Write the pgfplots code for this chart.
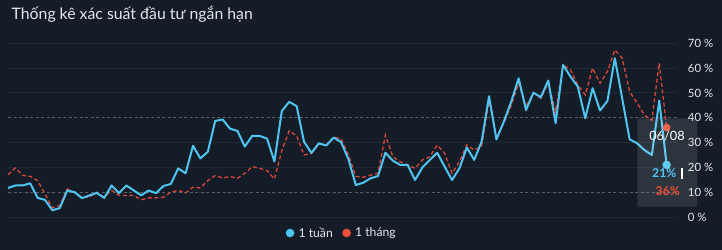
\documentclass[border=0pt]{standalone}
\usepackage{pgfplots}
\pgfplotsset{compat=1.18}
\usepackage{pgfplotstable}
\usepackage{fontspec}
\setmainfont{Lato}
\definecolor{bg}{HTML}{131C27}
\definecolor{gridc}{HTML}{1F2A36}
\definecolor{dashc}{HTML}{5A6068}
\definecolor{lblue}{HTML}{4EC5F1}
\definecolor{lred}{HTML}{D9473A}
\definecolor{mred}{HTML}{F25038}
\definecolor{txt}{HTML}{E3E7EB}

\pgfplotstableread{
i w m
0 11.7 17.0
1 12.7 19.8
2 12.7 16.8
3 13.6 16.4
4 7.7 14.7
5 6.9 9.3
6 2.7 3.7
7 3.6 4.7
8 10.7 11.3
9 10.0 10.0
10 7.6 8.0
11 8.7 8.0
12 9.7 10.0
13 7.7 8.0
14 12.7 10.7
15 9.6 8.7
16 12.7 8.7
17 10.7 8.7
18 8.7 6.9
19 10.7 7.7
20 9.6 7.7
21 12.5 8.0
22 13.3 10.0
23 19.6 10.7
24 17.6 9.7
25 28.7 12.0
26 23.6 11.7
27 26.3 14.7
28 38.7 16.7
29 39.3 15.7
30 35.6 16.3
31 34.7 15.6
32 28.4 17.6
33 32.7 20.3
34 32.7 19.6
35 31.6 18.7
36 22.4 15.3
37 42.7 26.7
38 46.4 34.7
39 44.7 32.7
40 30.3 25.0
41 25.8 25.5
42 29.7 29.4
43 28.8 29.0
44 32.0 32.2
45 30.2 31.5
46 23.3 25.0
47 12.9 16.4
48 13.8 16.0
49 15.6 16.9
50 16.5 17.6
51 25.9 33.0
52 22.7 24.3
53 21.0 22.3
54 21.0 21.0
55 14.9 19.6
56 20.0 23.0
57 23.0 24.3
58 25.9 29.0
59 20.3 25.7
60 14.9 17.6
61 19.6 22.3
62 28.0 29.0
63 23.0 27.0
64 30.4 28.6
65 48.7 46.5
66 31.3 32.4
67 38.4 37.8
68 46.5 45.0
69 55.9 53.9
70 43.1 44.5
71 50.1 50.0
72 48.3 47.8
73 55.0 54.0
74 37.8 42.5
75 61.3 61.3
76 56.6 59.3
77 52.5 53.2
78 39.8 49.2
79 51.9 60.0
80 42.9 53.9
81 46.8 58.6
82 64.0 67.3
83 47.7 64.0
84 31.3 50.5
85 29.7 46.0
86 27.0 41.0
87 25.0 39.0
88 46.9 62.0
89 21.0 36.0
}\datatable

\begin{document}
\begin{tikzpicture}
\fill[bg] (0,0) rectangle (722bp,250bp);
\node[anchor=base west, inner sep=0pt, text=txt, font=\fontsize{15.8bp}{18bp}\selectfont] at (11.5bp,230bp) {Thống kê xác suất đầu tư ngắn hạn};
\begin{axis}[
  at={(8bp,33bp)}, anchor=south west,
  scale only axis, width=669bp, height=173.7bp,
  xmin=0, xmax=90.4, ymin=0, ymax=70,
  axis line style={draw=none},
  xtick=\empty,
  ytick={0,20,30,50,60,70},
  yticklabels={0 \%,20 \%,30 \%,50 \%,60 \%,70 \%},
  extra y ticks={10,40},
  extra y tick labels={10 \%,40 \%},
  extra y tick style={grid=major, major grid style={color=dashc, dash pattern=on 3bp off 2.5bp, line width=1bp}},
  yticklabel pos=right,
  major tick length=0pt,
  ymajorgrids=true,
  major grid style={color=gridc, line width=1bp},
  yticklabel style={anchor=west, inner sep=0pt, xshift=10.7bp, text=txt, font=\fontsize{11.4bp}{13bp}\selectfont},
  clip=false,
  legend columns=2,
  legend style={at={(0.4985,-0.092)}, anchor=center, draw=none, fill=none, text=txt,
    font=\fontsize{12.2bp}{14bp}\selectfont, inner sep=0pt,
    /tikz/every even column/.append style={column sep=8bp},
    nodes={inner sep=1.5bp}},
  legend cell align=left,
]
\addplot[color=lred, line width=1.3bp, dash pattern=on 4bp off 2.6bp, forget plot] table[x=i, y=m] {\datatable};
\addplot[color=lblue, line width=2bp, line join=round, forget plot] table[x=i, y=w] {\datatable};
\addplot[only marks, mark=*, mark size=3.6bp, color=mred, forget plot] coordinates {(89,36)};
\addplot[only marks, mark=*, mark size=4bp, color=lblue, forget plot] coordinates {(89,21)};
\addlegendimage{legend image code/.code={\fill[lblue, draw=none] (0bp,0bp) circle (4.3bp); \path[draw=none, fill=none] (7bp,0bp) circle (0.01bp);}}
\addlegendentry{1 tuần}
\addlegendimage{legend image code/.code={\fill[mred, draw=none] (0bp,0bp) circle (4.3bp); \path[draw=none, fill=none] (7bp,0bp) circle (0.01bp);}}
\addlegendentry{1 tháng}
\end{axis}
% tooltip
\fill[white, opacity=0.11, rounded corners=2bp] (637.3bp,43.3bp) rectangle (697.3bp,131.7bp);
\node[text=white, font=\fontsize{12.8bp}{14bp}\selectfont, inner sep=0pt] at (667bp,114bp) {06/08};
\node[text=lblue, font=\bfseries\fontsize{12.2bp}{14bp}\selectfont, inner sep=0pt] at (664.3bp,77.3bp) {21\%};
\node[text=mred, font=\bfseries\fontsize{12.2bp}{14bp}\selectfont, inner sep=0pt] at (667.7bp,59bp) {36\%};
\draw[white, line width=1.6bp] (681.7bp,82bp) -- (681.7bp,71bp);
\pgfresetboundingbox
\path (0,0) rectangle (722bp,250bp);
\end{tikzpicture}
\end{document}
